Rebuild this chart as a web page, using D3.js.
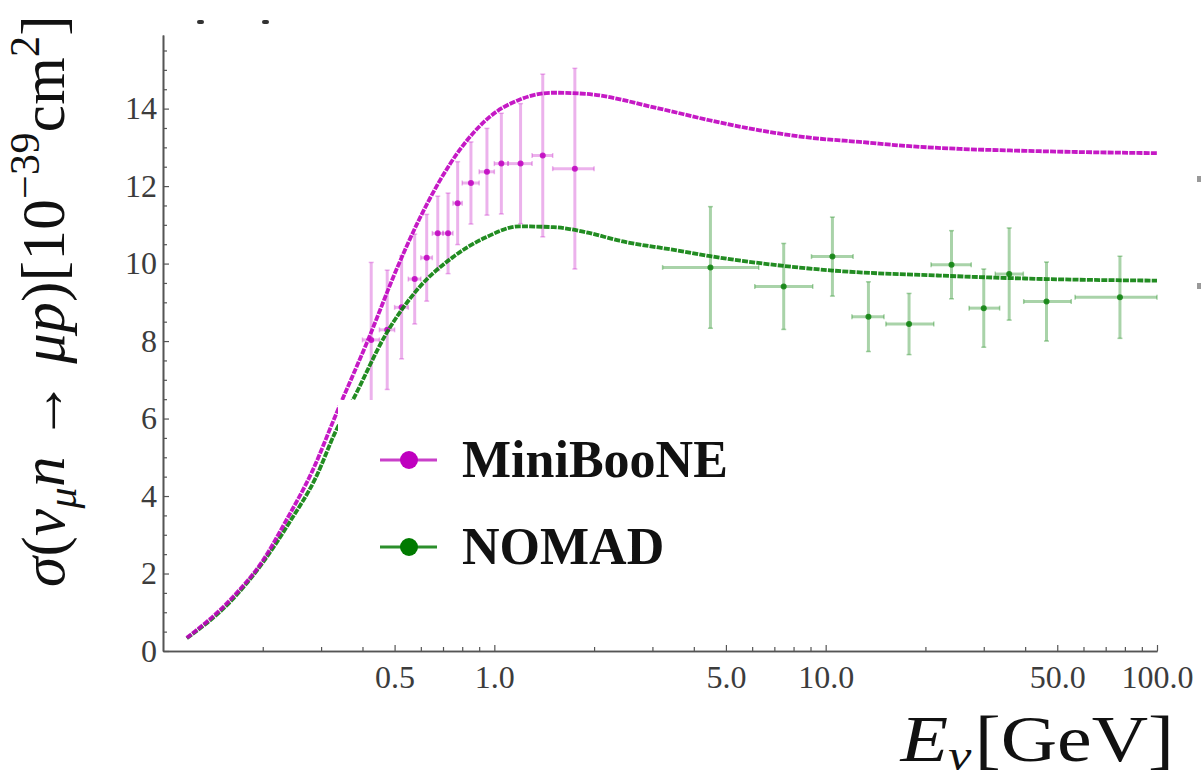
<!DOCTYPE html>
<html>
<head>
<meta charset="utf-8">
<script src="https://cdn.jsdelivr.net/npm/d3@7"></script>
<style>
  body { margin: 0; background: #fff; }
  svg { display: block; }
</style>
</head>
<body>
<svg id="chart"></svg>
<script>
// MiniBooNE data points (bin centre, bin edges, sigma, error)
const miniE     = [0.425, 0.475, 0.525, 0.575, 0.625, 0.675, 0.725, 0.775, 0.85, 0.95, 1.05, 1.2, 1.4, 1.75];
const miniLo    = [0.40, 0.45, 0.50, 0.55, 0.60, 0.65, 0.70, 0.75, 0.80, 0.90, 1.00, 1.10, 1.30, 1.50];
const miniHi    = [0.45, 0.50, 0.55, 0.60, 0.65, 0.70, 0.75, 0.80, 0.90, 1.00, 1.10, 1.30, 1.50, 2.00];
const miniSigma = [8.03, 8.29, 8.87, 9.60, 10.15, 10.78, 10.78, 11.56, 12.08, 12.37, 12.58, 12.58, 12.79, 12.45];
const miniErr   = [2.00, 1.54, 1.33, 1.16, 1.12, 0.96, 1.04, 1.07, 1.06, 1.12, 1.30, 1.55, 2.10, 2.59];

// NOMAD data points
const nomadE     = [4.49, 7.47, 10.48, 13.46, 17.85, 23.98, 30.0, 35.8, 46.4, 77.3];
const nomadLo    = [3.22, 6.11, 9.06, 12.0, 15.2, 20.8, 27.1, 32.5, 39.6, 56.6];
const nomadHi    = [6.28, 9.14, 12.1, 15.0, 21.2, 27.5, 33.5, 39.5, 55.1, 100];
const nomadSigma = [9.90, 9.41, 10.18, 8.63, 8.44, 9.97, 8.85, 9.73, 9.02, 9.13];
const nomadErr   = [1.57, 1.11, 1.02, 0.90, 0.79, 0.88, 1.01, 1.19, 1.02, 1.06];

// theory curves
const miniCurveE = [0.118, 0.162, 0.2, 0.235, 0.2825, 0.3325, 0.419, 0.505, 0.594, 0.784, 0.966, 1.19, 1.51, 1.89, 3.15, 4.46, 6.32, 8.95, 12.67, 17.94, 25.4, 35.97, 57.3, 100];
const miniCurveS = [0.34, 1.38, 2.33, 3.36, 4.65, 6.1, 8.1, 9.82, 11.15, 12.92, 13.78, 14.23, 14.41, 14.38, 14.0, 13.70, 13.44, 13.25, 13.14, 13.03, 12.96, 12.92, 12.88, 12.85];
const nomadCurveE = [0.118, 0.162, 0.2, 0.24, 0.2893, 0.3325, 0.373, 0.471, 0.594, 0.748, 0.944, 1.19, 1.51, 1.89, 2.39, 3.62, 4.49, 7.47, 10.48, 22.1, 46.4, 100];
const nomadCurveS = [0.33, 1.33, 2.28, 3.3, 4.48, 5.68, 6.46, 8.18, 9.39, 10.16, 10.68, 10.96, 10.94, 10.81, 10.59, 10.33, 10.19, 9.94, 9.82, 9.69, 9.60, 9.56];

// ticks
const xMajor = [0.5, 1, 5, 10, 50, 100];
const xMinor = [0.2, 0.3, 0.4, 0.6, 0.7, 0.8, 0.9, 2, 3, 4, 6, 7, 8, 9, 20, 30, 40, 60, 70, 80, 90];
const yMajor = [0, 2, 4, 6, 8, 10, 12, 14];
const yMinor = [0.5, 1, 1.5, 2.5, 3, 3.5, 4.5, 5, 5.5, 6.5, 7, 7.5, 8.5, 9, 9.5, 10.5, 11, 11.5, 12.5, 13, 13.5, 14.5, 15, 15.5];

const legendNames = ["MiniBooNE", "NOMAD"];

const width = 1201, height = 779;
const magenta = "#bf00bf", green = "#0a800a";
const serif = "'Liberation Serif', 'Times New Roman', serif";

let svg = d3.select("#chart").attr("width", width).attr("height", height);
svg.append("rect").attr("width", width).attr("height", height).attr("fill", "#fff");

const x = d3.scaleLog().domain([0.1, 100]).range([163, 1157]);
const y = d3.scaleLinear().domain([0, 15.9]).range([651, 35]);

//------------------- axes -------------------//
const axisColor = "#555";
function styleAxis(g) {
  g.select(".domain").attr("stroke", axisColor).attr("stroke-width", 1.6);
  g.selectAll(".tick line").attr("stroke", axisColor).attr("stroke-width", 1.2);
  g.selectAll(".tick text").attr("fill", "#3c3c3c")
    .style("font-family", serif).style("font-size", "32px");
}

svg.append("g").attr("transform", "translate(0,651)")
  .call(d3.axisBottom(x).tickValues(xMinor).tickSize(-4).tickSizeOuter(0).tickFormat(""))
  .call(styleAxis);
svg.append("g").attr("transform", "translate(0,651)")
  .call(d3.axisBottom(x).tickValues(xMajor).tickSize(-6).tickSizeOuter(0).tickPadding(14).tickFormat(d3.format(".1f")))
  .call(styleAxis);

svg.append("g").attr("transform", "translate(163,0)")
  .call(d3.axisLeft(y).tickValues(yMinor).tickSize(-4).tickSizeOuter(0).tickFormat(""))
  .call(styleAxis);
svg.append("g").attr("transform", "translate(163,0)")
  .call(d3.axisLeft(y).tickValues(yMajor).tickSize(-6).tickSizeOuter(0).tickPadding(6).tickFormat(d3.format("d")))
  .call(styleAxis);

//------------------- error bars -------------------//
function drawPoints(E, lo, hi, s, err, color, op) {
  const g = svg.append("g");
  const cap = 2.5;
  E.forEach((e, i) => {
    const cx = x(e), cy = y(s[i]);
    const top = y(s[i] + err[i]), bot = y(s[i] - err[i]);
    const xl = x(lo[i]), xr = x(hi[i]);
    const bar = g.append("g").attr("stroke", color).attr("stroke-opacity", op).attr("stroke-width", 3);
    bar.append("line").attr("x1", cx).attr("x2", cx).attr("y1", top).attr("y2", bot);
    bar.append("line").attr("x1", xl).attr("x2", xr).attr("y1", cy).attr("y2", cy);
    bar.append("line").attr("x1", cx - cap).attr("x2", cx + cap).attr("y1", top).attr("y2", top).attr("stroke-width", 1.5);
    bar.append("line").attr("x1", cx - cap).attr("x2", cx + cap).attr("y1", bot).attr("y2", bot).attr("stroke-width", 1.5);
    bar.append("line").attr("x1", xl).attr("x2", xl).attr("y1", cy - cap).attr("y2", cy + cap).attr("stroke-width", 1.5);
    bar.append("line").attr("x1", xr).attr("x2", xr).attr("y1", cy - cap).attr("y2", cy + cap).attr("stroke-width", 1.5);
    g.append("circle").attr("cx", cx).attr("cy", cy).attr("r", 3).attr("fill", color).attr("fill-opacity", 0.85);
  });
}
drawPoints(miniE, miniLo, miniHi, miniSigma, miniErr, magenta, 0.3);
drawPoints(nomadE, nomadLo, nomadHi, nomadSigma, nomadErr, green, 0.35);

//------------------- theory curves -------------------//
const line = d3.line().x(d => x(d[0])).y(d => y(d[1])).curve(d3.curveMonotoneX);
svg.append("path").datum(nomadCurveE.map((e, i) => [e, nomadCurveS[i]]))
  .attr("d", line).attr("fill", "none").attr("stroke", green)
  .attr("stroke-width", 3.8).attr("stroke-dasharray", "6,1.2").attr("stroke-opacity", 0.9);
svg.append("path").datum(miniCurveE.map((e, i) => [e, miniCurveS[i]]))
  .attr("d", line).attr("fill", "none").attr("stroke", magenta)
  .attr("stroke-width", 3.8).attr("stroke-dasharray", "6,1.2").attr("stroke-opacity", 0.9);

//------------------- legend -------------------//
svg.append("rect").attr("x", 338).attr("y", 400).attr("width", 440).attr("height", 215).attr("fill", "#fff");
const legColors = [magenta, "#007a00"];
const legLine = ["#c940c9", "#2b8f2b"];
const legY = [460, 547];
legendNames.forEach((name, i) => {
  svg.append("line").attr("x1", 380).attr("x2", 437).attr("y1", legY[i]).attr("y2", legY[i])
    .attr("stroke", legLine[i]).attr("stroke-width", 3);
  svg.append("circle").attr("cx", 409).attr("cy", legY[i]).attr("r", 9).attr("fill", legColors[i]);
  svg.append("text").attr("x", 462).attr("y", legY[i] + 17)
    .style("font-family", serif).style("font-weight", "bold")
    .style("font-size", "52px").attr("fill", "#111").text(name);
});

//------------------- axis titles -------------------//
// spread a label's letters so that it covers the given length
function spread(t, len) {
  const n = t.text().length;
  const cur = t.node().getComputedTextLength();
  t.style("letter-spacing", Math.max(0, (len - cur) / n) + "px");
}

const ylab = svg.append("text")
  .attr("transform", "translate(64,301) rotate(-90)")
  .attr("text-anchor", "middle")
  .style("font-family", serif).style("font-size", "61px").attr("fill", "#111");
ylab.append("tspan").style("font-style", "italic").text("σ");
ylab.append("tspan").text("(");
ylab.append("tspan").style("font-style", "italic").text("ν");
ylab.append("tspan").style("font-style", "italic").style("font-size", "42px").attr("dy", 12).text("μ");
ylab.append("tspan").style("font-style", "italic").attr("dy", -12).text("n");
ylab.append("tspan").text(" → ");
ylab.append("tspan").style("font-style", "italic").text("μp");
ylab.append("tspan").text(")[10");
ylab.append("tspan").style("font-size", "42px").attr("dy", -25).text("−39");
ylab.append("tspan").attr("dy", 25).text("cm");
ylab.append("tspan").style("font-size", "42px").attr("dy", -25).text("2");
ylab.append("tspan").attr("dy", 25).text("]");
spread(ylab, 572);

// x title: wider glyphs, so it is stretched horizontally to the reference width
const xlab = svg.append("text").attr("text-anchor", "end")
  .style("font-family", serif).style("font-size", "66px").attr("fill", "#111");
xlab.append("tspan").style("font-style", "italic").text("E");
xlab.append("tspan").style("font-style", "italic").style("font-size", "44px").attr("dy", 9).text("ν");
xlab.append("tspan").attr("dy", -9).attr("dx", 3).text("[GeV]");
const xw = xlab.node().getComputedTextLength();
xlab.attr("transform", "translate(1174,761) scale(" + (270 / xw) + ",1)");

// cropped fragments at the image edges
const fragX = [197, 262], fragY = [20, 20];
fragX.forEach((fx, i) => svg.append("rect").attr("x", fx).attr("y", fragY[i]).attr("width", 7).attr("height", 4).attr("rx", 2).attr("fill", "#333"));
const edgeY = [176, 283];
edgeY.forEach(ey => svg.append("rect").attr("x", 1197).attr("y", ey).attr("width", 4).attr("height", 6).attr("fill", "#999"));
</script>
</body>
</html>
